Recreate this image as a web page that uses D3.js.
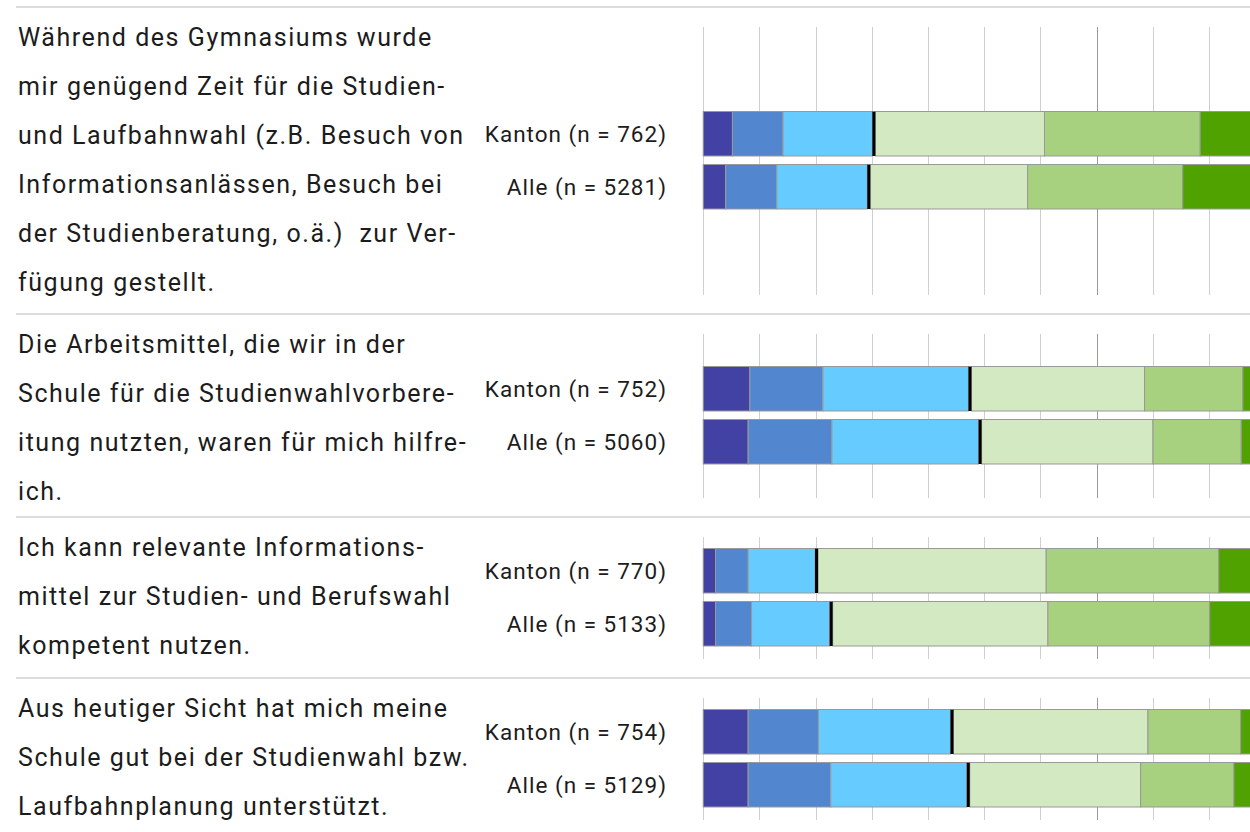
<!DOCTYPE html>
<html>
<head>
<meta charset="utf-8">
<script src="https://cdn.jsdelivr.net/npm/d3@7"></script>
<style>
  html, body { margin: 0; padding: 0; background: #fff; overflow: hidden; }
  svg { display: block; }
  text { white-space: pre; }
</style>
</head>
<body>
<svg id="chart" width="1250" height="832"></svg>
<script>
// ---------- DATA ----------
const questionLines = [
  ["Während des Gymnasiums wurde",
   "mir genügend Zeit für die Studien-",
   "und Laufbahnwahl (z.B. Besuch von",
   "Informationsanlässen, Besuch bei",
   "der Studienberatung, o.ä.)  zur Ver-",
   "fügung gestellt."],
  ["Die Arbeitsmittel, die wir in der",
   "Schule für die Studienwahlvorbere-",
   "itung nutzten, waren für mich hilfre-",
   "ich."],
  ["Ich kann relevante Informations-",
   "mittel zur Studien- und Berufswahl",
   "kompetent nutzen."],
  ["Aus heutiger Sicht hat mich meine",
   "Schule gut bei der Studienwahl bzw.",
   "Laufbahnplanung unterstützt."]
];
const groups = ["Kanton", "Alle"];
const nKanton = [762, 752, 770, 754];
const nAlle = [5281, 5060, 5133, 5129];
const categories = ["trifft gar nicht zu", "trifft nicht zu", "trifft eher nicht zu",
                    "trifft eher zu", "trifft zu", "trifft voll zu"];
const kantonValues = [
  [5.2, 9.0, 15.9, 30.1, 27.7, 12.1],
  [8.3, 13.0, 25.9, 30.8, 17.5, 4.5],
  [2.2, 5.8, 11.9, 40.6, 30.7, 8.8],
  [8.0, 12.5, 23.5, 34.6, 16.5, 4.9]
];
const alleValues = [
  [4.0, 9.1, 16.1, 28.0, 27.6, 15.2],
  [8.0, 14.9, 26.1, 30.5, 15.7, 4.8],
  [2.2, 6.4, 13.9, 38.3, 28.8, 10.4],
  [8.0, 14.7, 24.2, 30.4, 16.6, 6.1]
];
const gridTicks = [0, 10, 20, 30, 40, 50, 60, 70, 80, 90, 100];

// ---------- STYLE / LAYOUT ----------
const colors = ["#4242a5", "#5286cf", "#66cbff", "#d3e9c1", "#a7d17f", "#50a200"];
const sectionTops = [7, 314, 517, 678, 839];
const fontFamily = "Roboto, 'Noto Sans', sans-serif";
const lineHeight = 49;
const markerW = 3;
const barH = 44.5;

const svg = d3.select("#chart");
const x = d3.scaleLinear().domain([0, 100]).range([703.2, 1265.2]);

questionLines.forEach((lines, qi) => {
  const top = sectionTops[qi], bottom = sectionTops[qi + 1];
  const center = (top + bottom) / 2;
  const g = svg.append("g");

  // divider
  g.append("line")
    .attr("x1", 16).attr("x2", 1250)
    .attr("y1", top).attr("y2", top)
    .attr("stroke", "#dcdcdc").attr("stroke-width", 2);

  // question text
  g.append("text")
    .attr("font-family", fontFamily).attr("font-size", 25)
    .attr("letter-spacing", 1.55)
    .attr("fill", "#1c1c1c")
    .selectAll("tspan").data(lines).join("tspan")
    .attr("x", 18)
    .attr("y", (d, i) => top + 38.5 + i * lineHeight)
    .text(d => d);

  // gridlines
  g.append("g").selectAll("line").data(gridTicks).join("line")
    .attr("x1", d => Math.round(x(d)) + 0.5).attr("x2", d => Math.round(x(d)) + 0.5)
    .attr("y1", top + 20).attr("y2", bottom - 19)
    .attr("stroke", d => d === 70 ? "#9a9a9a" : "#cfcfcf")
    .attr("stroke-width", 1);

  const rows = [
    { label: `${groups[0]} (n = ${nKanton[qi]})`, vals: kantonValues[qi], y: center - 49 },
    { label: `${groups[1]} (n = ${nAlle[qi]})`, vals: alleValues[qi], y: center + 4 }
  ];

  rows.forEach(row => {
    const cum = Array.from(d3.cumsum(row.vals));
    const segs = row.vals.map((v, i) => {
      const start = i === 0 ? 0 : cum[i - 1];
      const off = i >= 3 ? markerW : 0;
      return { cat: categories[i], color: colors[i],
               x0: x(start) + off, x1: x(cum[i]) + off };
    });
    const rg = g.append("g");
    rg.selectAll("rect.seg").data(segs).join("rect")
      .attr("class", "seg")
      .attr("x", d => d.x0).attr("width", d => d.x1 - d.x0)
      .attr("y", row.y).attr("height", barH)
      .attr("fill", d => d.color)
      .attr("stroke", "#999").attr("stroke-width", 1);
    // black marker between negative and positive answers
    rg.append("rect")
      .attr("x", x(cum[2])).attr("width", markerW)
      .attr("y", row.y).attr("height", barH)
      .attr("fill", "#000");

    rg.append("text")
      .attr("x", 667).attr("y", row.y + barH / 2 + 8)
      .attr("text-anchor", "end")
      .attr("font-family", fontFamily).attr("font-size", 22.5)
      .attr("letter-spacing", 1.0)
      .attr("fill", "#1c1c1c")
      .text(row.label);
  });
});
</script>
</body>
</html>
